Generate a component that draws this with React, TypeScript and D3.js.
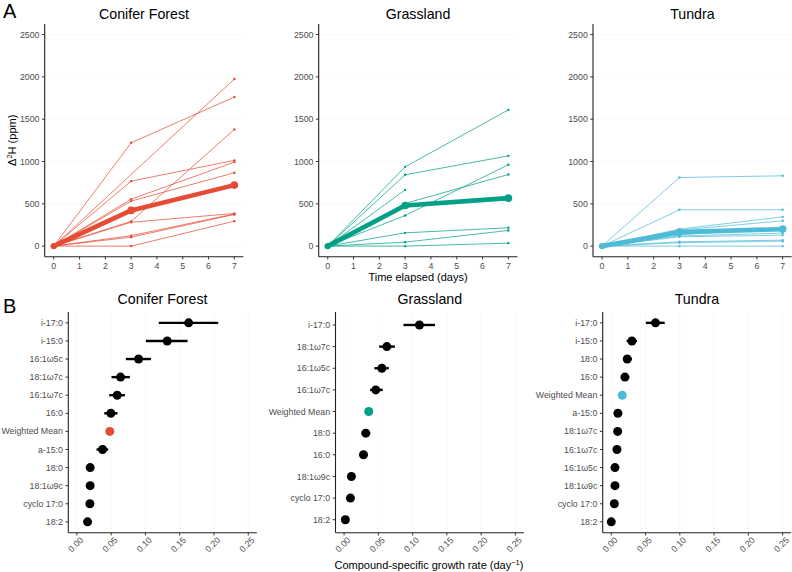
import React from 'react';
import * as d3 from 'd3';

// ---------- Panel A data ----------
const days = [0, 3, 7];
const yTicksA = [0, 500, 1000, 1500, 2000, 2500];
const xTicksA = [0, 1, 2, 3, 4, 5, 6, 7];

const coniferLines: (number | null)[][] = [
  [0, 1221, 1762],
  [0, null, 1975],
  [0, 768, 1013],
  [0, 555, 993],
  [0, 532, 867],
  [0, 293, 1380],
  [0, 282, 386],
  [0, 123, 380],
  [0, 106, 374],
  [0, 0, 295],
];
const coniferMean = [0, 422, 721];

const grassLines: (number | null)[][] = [
  [0, 937, 1610],
  [0, 843, 1067],
  [0, 665, null],
  [0, 505, 846],
  [0, 362, 961],
  [0, 157, 217],
  [0, 47, 185],
  [0, 0, 35],
];
const grassMean = [0, 480, 567];

const tundraLines: (number | null)[][] = [
  [0, 811, 831],
  [0, 429, 429],
  [0, 201, 346],
  [0, 190, 299],
  [0, 134, 213],
  [0, 120, 154],
  [0, 110, 130],
  [0, 51, 71],
  [0, 40, 59],
  [0, 0, 0],
];
const tundraMean = [0, 165, 201];

// ---------- Panel B data ----------
const xTicksB = [0, 0.05, 0.1, 0.15, 0.2, 0.25];

const coniferCats = ['i-17:0', 'i-15:0', '16:1ω5c', '18:1ω7c', '16:1ω7c', '16:0', 'Weighted Mean', 'a-15:0', '18:0', '18:1ω9c', 'cyclo 17:0', '18:2'];
const coniferRate = [0.163, 0.1318, 0.090, 0.0637, 0.0588, 0.0496, 0.048, 0.0375, 0.0194, 0.0194, 0.019, 0.0156];
const coniferLo = [0.1196, 0.1007, 0.0715, 0.0506, 0.0472, 0.0399, 0.048, 0.0287, 0.0175, 0.0178, 0.0175, 0.0142];
const coniferHi = [0.2062, 0.1615, 0.108, 0.0773, 0.070, 0.0593, 0.048, 0.0457, 0.0213, 0.021, 0.0205, 0.017];

const grassCats = ['i-17:0', '18:1ω7c', '16:1ω5c', '16:1ω7c', 'Weighted Mean', '18:0', '16:0', '18:1ω9c', 'cyclo 17:0', '18:2'];
const grassRate = [0.110, 0.0624, 0.0551, 0.0463, 0.036, 0.0317, 0.0283, 0.0107, 0.0093, 0.0019];
const grassLo = [0.0867, 0.0512, 0.0443, 0.038, 0.036, 0.0258, 0.0234, 0.009, 0.008, 0.001];
const grassHi = [0.1326, 0.0741, 0.0653, 0.0565, 0.036, 0.038, 0.0341, 0.0124, 0.0106, 0.003];

const tundraCats = ['i-17:0', 'i-15:0', '18:0', '16:0', 'Weighted Mean', 'a-15:0', '18:1ω7c', '16:1ω7c', '16:1ω5c', '18:1ω9c', 'cyclo 17:0', '18:2'];
const tundraRate = [0.0645, 0.0301, 0.0233, 0.0199, 0.016, 0.0097, 0.0093, 0.0083, 0.0054, 0.0054, 0.0045, 0.0];
const tundraLo = [0.0504, 0.0224, 0.017, 0.0145, 0.016, 0.008, 0.0078, 0.007, 0.0044, 0.0044, 0.0036, -0.001];
const tundraHi = [0.078, 0.0374, 0.030, 0.0262, 0.016, 0.0114, 0.0108, 0.0096, 0.0064, 0.0064, 0.0054, 0.001];

const RED = '#E64B35';
const TEAL = '#00A087';
const BLUE = '#4DBBD5';

const FONT = "'Liberation Sans', Arial, Helvetica, sans-serif";
const AXIS = '#222';
const TICKC = '#333';
const LABC = '#4d4d4d';
const GRID = '#dcdcdc';

type TopProps = {
  title: string;
  lines: (number | null)[][];
  mean: number[];
  color: string;
  x0: number;
};

const TOP_Y0 = 24;
const TOP_Y1 = 256.7;
const TOP_W = 198.7;

function TopPanel({ title, lines, mean, color, x0 }: TopProps) {
  const x = d3.scaleLinear().domain([-0.35, 7.35]).range([x0, x0 + TOP_W]);
  const y = d3.scaleLinear().domain([-125, 2625]).range([TOP_Y1, TOP_Y0]);
  const lineGen = d3
    .line<[number, number]>()
    .x((d) => x(d[0]))
    .y((d) => y(d[1]));
  const toPts = (vals: (number | null)[]) =>
    vals
      .map((v, i) => (v === null ? null : ([days[i], v] as [number, number])))
      .filter((p): p is [number, number] => p !== null);
  const meanPts = toPts(mean);
  return (
    <g>
      <text x={(x0 + x0 + TOP_W) / 2} y={19} textAnchor="middle" fontSize={14.2} fill="#000">
        {title}
      </text>
      {yTicksA.map((t) => (
        <line key={'g' + t} x1={x0} x2={x0 + TOP_W} y1={y(t)} y2={y(t)} stroke={GRID} strokeWidth={0.7} strokeDasharray="1,3" />
      ))}
      {lines.map((s, i) => {
        const pts = toPts(s);
        return (
          <g key={i}>
            <path d={lineGen(pts) || ''} fill="none" stroke={color} strokeWidth={0.8} strokeOpacity={0.9} />
            {pts.map((p, j) => (
              <circle key={j} cx={x(p[0])} cy={y(p[1])} r={1.2} fill={color} />
            ))}
          </g>
        );
      })}
      <path d={lineGen(meanPts) || ''} fill="none" stroke={color} strokeWidth={4.6} strokeLinejoin="round" />
      {meanPts.map((p, j) => (
        <circle key={'m' + j} cx={x(p[0])} cy={y(p[1])} r={j === 0 ? 3.2 : 3.8} fill={color} />
      ))}
      {/* axes */}
      <line x1={x0} x2={x0} y1={TOP_Y0} y2={TOP_Y1} stroke={AXIS} strokeWidth={1.1} />
      <line x1={x0} x2={x0 + TOP_W} y1={TOP_Y1} y2={TOP_Y1} stroke={AXIS} strokeWidth={1.1} />
      {yTicksA.map((t) => (
        <g key={'yt' + t}>
          <line x1={x0 - 2.75} x2={x0} y1={y(t)} y2={y(t)} stroke={TICKC} strokeWidth={1} />
          <text x={x0 - 5.2} y={y(t)} dy="0.35em" textAnchor="end" fontSize={8.8} fill={LABC}>
            {t}
          </text>
        </g>
      ))}
      {xTicksA.map((t) => (
        <g key={'xt' + t}>
          <line x1={x(t)} x2={x(t)} y1={TOP_Y1} y2={TOP_Y1 + 2.75} stroke={TICKC} strokeWidth={1} />
          <text x={x(t)} y={TOP_Y1 + 12.6} textAnchor="middle" fontSize={8.8} fill={LABC}>
            {t}
          </text>
        </g>
      ))}
    </g>
  );
}

type BotProps = {
  title: string;
  cats: string[];
  rate: number[];
  lo: number[];
  hi: number[];
  color: string;
  x0: number;
};

const BOT_Y0 = 312;
const BOT_Y1 = 532.7;
const BOT_W = 188.5;

function BottomPanel({ title, cats, rate, lo, hi, color, x0 }: BotProps) {
  const x = d3.scaleLinear().domain([-0.0125, 0.2625]).range([x0, x0 + BOT_W]);
  const y = d3.scalePoint<string>().domain(cats).range([BOT_Y0, BOT_Y1]).padding(0.6);
  return (
    <g>
      <text x={x0 + BOT_W / 2} y={304} textAnchor="middle" fontSize={14.2} fill="#000">
        {title}
      </text>
      {xTicksB.map((t) => (
        <line key={'g' + t} x1={x(t)} x2={x(t)} y1={BOT_Y0} y2={BOT_Y1} stroke={GRID} strokeWidth={0.7} strokeDasharray="1,3" />
      ))}
      {cats.map((c, i) => {
        const isMean = c === 'Weighted Mean';
        const cy = y(c) as number;
        return (
          <g key={c}>
            {!isMean && <line x1={x(lo[i])} x2={x(hi[i])} y1={cy} y2={cy} stroke="#000" strokeWidth={2.4} />}
            <circle cx={x(rate[i])} cy={cy} r={4.5} fill={isMean ? color : '#000'} />
          </g>
        );
      })}
      <line x1={x0} x2={x0} y1={BOT_Y0} y2={BOT_Y1} stroke={AXIS} strokeWidth={1.1} />
      <line x1={x0} x2={x0 + BOT_W} y1={BOT_Y1} y2={BOT_Y1} stroke={AXIS} strokeWidth={1.1} />
      {cats.map((c) => (
        <g key={'yt' + c}>
          <line x1={x0 - 2.75} x2={x0} y1={y(c) as number} y2={y(c) as number} stroke={TICKC} strokeWidth={1} />
          <text x={x0 - 5.4} y={y(c) as number} dy="0.35em" textAnchor="end" fontSize={8.8} fill={LABC}>
            {c}
          </text>
        </g>
      ))}
      {xTicksB.map((t) => (
        <g key={'xt' + t}>
          <line x1={x(t)} x2={x(t)} y1={BOT_Y1} y2={BOT_Y1 + 2.75} stroke={TICKC} strokeWidth={1} />
          <text
            transform={`translate(${x(t) + 7},${BOT_Y1 + 8}) rotate(-45)`}
            textAnchor="end"
            fontSize={8.8}
            fill={LABC}
          >
            {t.toFixed(2)}
          </text>
        </g>
      ))}
    </g>
  );
}

export default function App() {
  return (
    <svg
      width={792}
      height={572}
      style={{ position: 'absolute', left: 0, top: 0, background: '#fff' }}
      fontFamily={FONT}
    >
      <rect x={0} y={0} width={792} height={572} fill="#fff" />
      <text x={3} y={18} fontSize={20} fill="#000">A</text>
      <text x={3} y={313} fontSize={20} fill="#000">B</text>

      <TopPanel title="Conifer Forest" lines={coniferLines} mean={coniferMean} color={RED} x0={44.7} />
      <TopPanel title="Grassland" lines={grassLines} mean={grassMean} color={TEAL} x0={318.7} />
      <TopPanel title="Tundra" lines={tundraLines} mean={tundraMean} color={BLUE} x0={593} />

      <text transform="translate(15.5,140.3) rotate(-90)" textAnchor="middle" fontSize={11} fill="#000">
        Δ<tspan dy={-4} fontSize={7.5}>2</tspan>
        <tspan dy={4}>H (ppm)</tspan>
      </text>
      <text x={418} y={281} textAnchor="middle" fontSize={11} fill="#000">
        Time elapsed (days)
      </text>

      <BottomPanel title="Conifer Forest" cats={coniferCats} rate={coniferRate} lo={coniferLo} hi={coniferHi} color={RED} x0={68.3} />
      <BottomPanel title="Grassland" cats={grassCats} rate={grassRate} lo={grassLo} hi={grassHi} color={TEAL} x0={335.5} />
      <BottomPanel title="Tundra" cats={tundraCats} rate={tundraRate} lo={tundraLo} hi={tundraHi} color={BLUE} x0={602.7} />

      <text x={429} y={569} textAnchor="middle" fontSize={11} fill="#000">
        Compound-specific growth rate (day<tspan dy={-4} fontSize={7.5}>−1</tspan>
        <tspan dy={4}>)</tspan>
      </text>
    </svg>
  );
}
